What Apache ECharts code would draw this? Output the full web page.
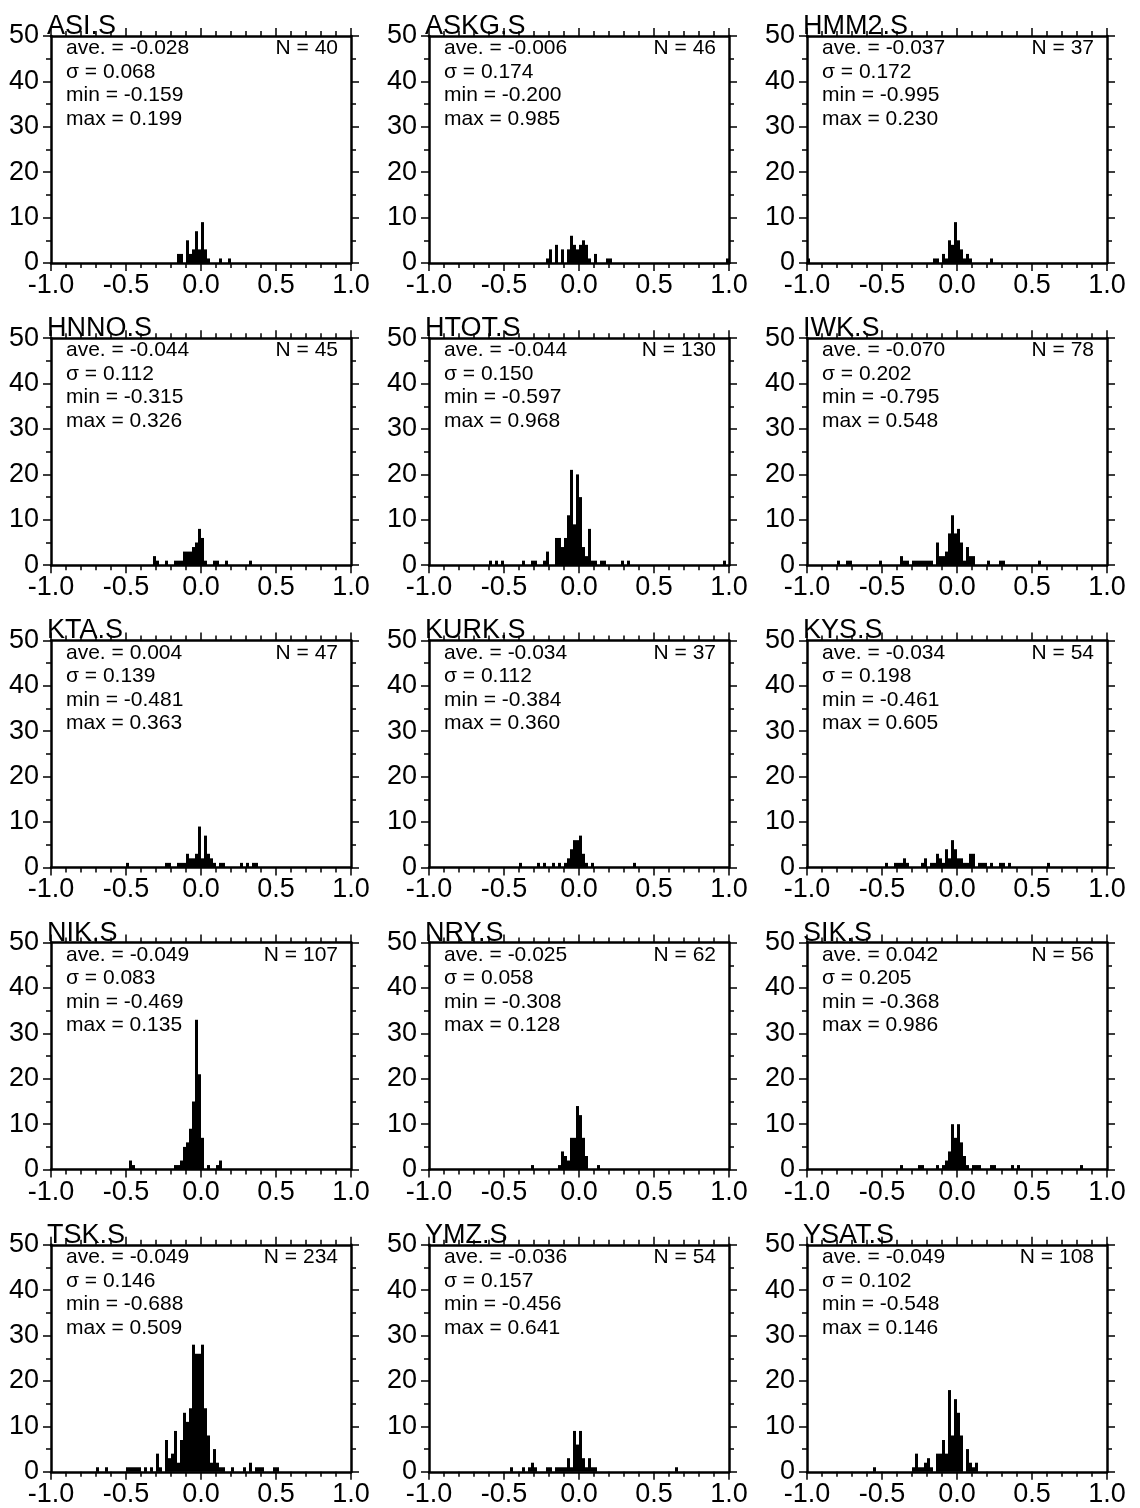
<!DOCTYPE html>
<html><head><meta charset="utf-8">
<script src="https://cdn.jsdelivr.net/npm/echarts@6/dist/echarts.min.js"></script>
<style>html,body{margin:0;padding:0;background:#fff}#c{width:1140px;height:1508px}</style>
</head><body><div id="c"></div>
<script>
// ---------- DATA ----------
const stations = ['ASI.S','ASKG.S','HMM2.S','HNNO.S','HTOT.S','IWK.S','KTA.S','KURK.S','KYS.S','NIK.S','NRY.S','SIK.S','TSK.S','YMZ.S','YSAT.S'];
const aveValues   = ['-0.028','-0.006','-0.037','-0.044','-0.044','-0.070','0.004','-0.034','-0.034','-0.049','-0.025','0.042','-0.049','-0.036','-0.049'];
const sigmaValues = ['0.068','0.174','0.172','0.112','0.150','0.202','0.139','0.112','0.198','0.083','0.058','0.205','0.146','0.157','0.102'];
const minValues   = ['-0.159','-0.200','-0.995','-0.315','-0.597','-0.795','-0.481','-0.384','-0.461','-0.469','-0.308','-0.368','-0.688','-0.456','-0.548'];
const maxValues   = ['0.199','0.985','0.230','0.326','0.968','0.548','0.363','0.360','0.605','0.135','0.128','0.986','0.509','0.641','0.146'];
const nValues     = [40,46,37,45,130,78,47,37,54,107,62,56,234,54,108];
const xTickLabels = ['-1.0','-0.5','0.0','0.5','1.0'];
const yTickLabels = ['0','10','20','30','40','50'];
const BIN = 0.02;

// histogram bins: [bin centre, count]
const ASI_S  = [[-0.15,2],[-0.13,2],[-0.09,5],[-0.07,2],[-0.05,3],[-0.03,7],[-0.01,3],[0.01,9],[0.03,3],[0.05,1],[0.13,1],[0.19,1]];
const ASKG_S = [[-0.21,1],[-0.19,3],[-0.15,4],[-0.11,3],[-0.07,3],[-0.05,6],[-0.03,4],[-0.01,3],[0.01,4],[0.03,5],[0.05,4],[0.07,1],[0.11,2],[0.19,1],[0.21,1],[0.99,1]];
const HMM2_S = [[-0.99,1],[-0.15,1],[-0.13,1],[-0.09,2],[-0.07,1],[-0.05,5],[-0.03,4],[-0.01,9],[0.01,5],[0.03,3],[0.05,1],[0.07,2],[0.09,1],[0.23,1]];
const HNNO_S = [[-0.31,2],[-0.29,1],[-0.23,1],[-0.17,1],[-0.15,1],[-0.13,1],[-0.11,3],[-0.09,3],[-0.07,3],[-0.05,4],[-0.03,5],[-0.01,8],[0.01,6],[0.03,1],[0.09,1],[0.11,1],[0.17,1],[0.33,1]];
const HTOT_S = [[-0.59,1],[-0.55,1],[-0.51,1],[-0.37,1],[-0.31,1],[-0.29,1],[-0.23,1],[-0.21,3],[-0.15,6],[-0.13,6],[-0.11,4],[-0.09,6],[-0.07,11],[-0.05,21],[-0.03,9],[-0.01,20],[0.01,15],[0.03,4],[0.05,2],[0.07,8],[0.09,1],[0.11,1],[0.15,1],[0.17,1],[0.29,1],[0.33,1],[0.97,1]];
const IWK_S  = [[-0.79,1],[-0.73,1],[-0.71,1],[-0.51,1],[-0.37,2],[-0.35,1],[-0.33,1],[-0.29,1],[-0.27,1],[-0.25,1],[-0.23,1],[-0.21,1],[-0.19,1],[-0.17,1],[-0.13,5],[-0.11,2],[-0.09,2],[-0.07,3],[-0.05,7],[-0.03,11],[-0.01,7],[0.01,8],[0.03,5],[0.05,1],[0.07,4],[0.09,2],[0.11,2],[0.21,1],[0.29,1],[0.31,1],[0.55,1]];
const KTA_S  = [[-0.49,1],[-0.23,1],[-0.21,1],[-0.15,1],[-0.13,1],[-0.11,1],[-0.09,3],[-0.07,2],[-0.05,2],[-0.03,3],[-0.01,9],[0.01,2],[0.03,7],[0.05,3],[0.07,2],[0.09,1],[0.13,1],[0.15,1],[0.27,1],[0.31,1],[0.35,1],[0.37,1]];
const KURK_S = [[-0.39,1],[-0.27,1],[-0.23,1],[-0.17,1],[-0.13,1],[-0.09,1],[-0.07,2],[-0.05,4],[-0.03,6],[-0.01,6],[0.01,7],[0.03,3],[0.05,1],[0.09,1],[0.37,1]];
const KYS_S  = [[-0.47,1],[-0.41,1],[-0.39,1],[-0.37,1],[-0.35,2],[-0.33,1],[-0.23,1],[-0.21,2],[-0.17,1],[-0.15,1],[-0.13,3],[-0.11,2],[-0.09,1],[-0.07,4],[-0.05,2],[-0.03,6],[-0.01,4],[0.01,2],[0.03,2],[0.05,1],[0.07,1],[0.09,3],[0.11,3],[0.15,1],[0.17,1],[0.19,1],[0.23,1],[0.29,1],[0.31,1],[0.35,1],[0.61,1]];
const NIK_S  = [[-0.47,2],[-0.45,1],[-0.17,1],[-0.15,1],[-0.13,2],[-0.11,5],[-0.09,6],[-0.07,9],[-0.05,15],[-0.03,33],[-0.01,21],[0.01,7],[0.05,1],[0.11,1],[0.13,2]];
const NRY_S  = [[-0.31,1],[-0.13,1],[-0.11,4],[-0.09,3],[-0.07,2],[-0.05,7],[-0.03,7],[-0.01,14],[0.01,12],[0.03,7],[0.05,3],[0.13,1]];
const SIK_S  = [[-0.37,1],[-0.25,1],[-0.23,1],[-0.13,1],[-0.09,1],[-0.07,2],[-0.05,4],[-0.03,10],[-0.01,7],[0.01,10],[0.03,6],[0.05,3],[0.07,1],[0.11,1],[0.13,1],[0.15,1],[0.23,1],[0.25,1],[0.37,1],[0.41,1],[0.83,1]];
const TSK_S  = [[-0.69,1],[-0.63,1],[-0.49,1],[-0.47,1],[-0.45,1],[-0.43,1],[-0.41,1],[-0.37,1],[-0.33,1],[-0.29,4],[-0.27,1],[-0.23,7],[-0.21,3],[-0.19,4],[-0.17,9],[-0.15,2],[-0.13,7],[-0.11,13],[-0.09,11],[-0.07,14],[-0.05,28],[-0.03,26],[-0.01,26],[0.01,28],[0.03,14],[0.05,8],[0.07,2],[0.09,5],[0.11,2],[0.13,1],[0.15,1],[0.21,1],[0.29,1],[0.33,2],[0.37,1],[0.39,1],[0.41,1],[0.49,1],[0.51,1]];
const YMZ_S  = [[-0.45,1],[-0.37,1],[-0.33,1],[-0.31,2],[-0.29,1],[-0.21,1],[-0.19,1],[-0.15,1],[-0.13,1],[-0.11,1],[-0.09,1],[-0.07,3],[-0.05,1],[-0.03,9],[-0.01,6],[0.01,9],[0.03,3],[0.05,1],[0.07,3],[0.09,1],[0.11,1],[0.65,1]];
const YSAT_S = [[-0.55,1],[-0.29,1],[-0.27,4],[-0.25,1],[-0.23,1],[-0.21,2],[-0.19,3],[-0.17,1],[-0.13,4],[-0.11,4],[-0.09,7],[-0.07,4],[-0.05,18],[-0.03,8],[-0.01,16],[0.01,13],[0.03,8],[0.07,5],[0.09,2],[0.11,1],[0.13,2]];

const hists = [ASI_S,ASKG_S,HMM2_S,HNNO_S,HTOT_S,IWK_S,KTA_S,KURK_S,KYS_S,NIK_S,NRY_S,SIK_S,TSK_S,YMZ_S,YSAT_S];

// ---------- LAYOUT ----------
const FONT = '"Liberation Sans", Arial, Helvetica, sans-serif';
const colLeft = [51, 429, 807];
const rowTop = [36, 338.2, 640.4, 942.6, 1244.8];
const plotW = 300, plotH = 227;

const grids = [], xAxes = [], yAxes = [], series = [], graphics = [];
const lineStyle = {color:'#000', width:2.5};

stations.forEach((name, i) => {
  const r = Math.floor(i / 3), c = i % 3;
  const L = colLeft[c], T = rowTop[r];
  grids.push({left:L, top:T, width:plotW, height:plotH, show:false});
  const xBase = {gridIndex:i, type:'value', min:-1, max:1, interval:0.5,
    splitLine:{show:false}, axisLine:{show:true, onZero:false, lineStyle},
    minorTick:{show:true, splitNumber:5, length:5, lineStyle:{color:'#000', width:1.5}},
    axisTick:{show:true, inside:false, length:8, lineStyle:{color:'#000', width:1.5}}};
  xAxes.push(Object.assign({}, xBase, {position:'bottom',
    axisLabel:{show:true, color:'#000', fontSize:27, fontFamily:FONT, margin:9,
      formatter: v => xTickLabels[Math.round((v + 1) / 0.5)]}}));
  xAxes.push(Object.assign({}, xBase, {position:'top', axisLabel:{show:false}}));
  const yBase = {gridIndex:i, type:'value', min:0, max:50, interval:10,
    splitLine:{show:false}, axisLine:{show:true, onZero:false, lineStyle},
    minorTick:{show:true, splitNumber:2, length:5, lineStyle:{color:'#000', width:1.5}},
    axisTick:{show:true, inside:false, length:8, lineStyle:{color:'#000', width:1.5}}};
  yAxes.push(Object.assign({}, yBase, {position:'left',
    axisLabel:{show:true, color:'#000', fontSize:27, fontFamily:FONT, margin:12,
      formatter: v => yTickLabels[Math.round(v / 10)]}}));
  yAxes.push(Object.assign({}, yBase, {position:'right', axisLabel:{show:false}}));

  series.push({
    type:'custom', xAxisIndex:2*i, yAxisIndex:2*i, silent:true, animation:false,
    data: hists[i].map(([x, n]) => [x - BIN/2, x + BIN/2, n]),
    encode:{x:[0,1], y:2},
    renderItem: (params, api) => {
      const p0 = api.coord([api.value(0), 0]);
      const p1 = api.coord([api.value(1), api.value(2)]);
      return {type:'rect', shape:{x:p0[0], y:p1[1], width:p1[0]-p0[0], height:p0[1]-p1[1]},
        style:{fill:'#000'}};
    }
  });

  // title
  graphics.push({type:'text', left:L - 4, top:T - 23,
    style:{text:name, fill:'#000', font:'27px ' + FONT}, z:10});
  // stats
  const stats = ['ave. = ' + aveValues[i], 'σ = ' + sigmaValues[i], 'min = ' + minValues[i], 'max = ' + maxValues[i]];
  stats.forEach((s, k) => {
    graphics.push({type:'text', left:L + 15, top:T + 2 + k * 23.5,
      style:{text:s, fill:'#000', font:'21px ' + FONT}, z:10});
  });
  graphics.push({type:'text', right:1140 - (L + plotW - 13), top:T + 2,
    style:{text:'N = ' + nValues[i], fill:'#000', font:'21px ' + FONT}, z:10});
});

const chart = echarts.init(document.getElementById('c'), null, {renderer:'canvas'});
chart.setOption({
  backgroundColor:'#fff', animation:false,
  grid:grids, xAxis:xAxes, yAxis:yAxes, series:series, graphic:graphics
});
</script>
</body></html>
